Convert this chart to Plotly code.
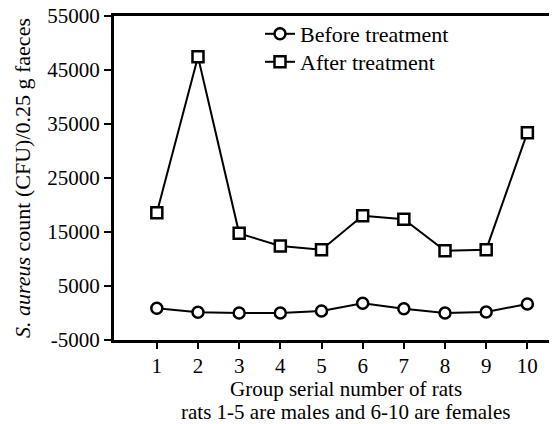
import plotly.graph_objects as go

rats = [1, 2, 3, 4, 5, 6, 7, 8, 9, 10]
before = [870, 130, 0, 0, 370, 1790, 800, 0, 190, 1670]
after = [18580, 47470, 14750, 12400, 11730, 18020, 17350, 11540, 11730, 33400]
y_ticks = [-5000, 5000, 15000, 25000, 35000, 45000, 55000]

font = "Liberation Serif"
# page body has an 8px margin; plot area spans screen x 114..557, y 16..340
PW, PH = 443, 324


def px_x(sx):
    return (sx - 114) / PW


def px_y(sy):
    return (340 - sy) / PH


fig = go.Figure()
fig.add_trace(go.Scatter(
    x=rats, y=before, mode="lines+markers", name="Before treatment", legend="legend",
    line=dict(color="black", width=2),
    marker=dict(symbol="circle", size=11, color="white", line=dict(color="black", width=2.5)),
))
fig.add_trace(go.Scatter(
    x=rats, y=after, mode="lines+markers", name="After treatment", legend="legend2",
    line=dict(color="black", width=2),
    marker=dict(symbol="square", size=11, color="white", line=dict(color="black", width=2.5)),
))

leg_common = dict(xanchor="left", yanchor="middle", bgcolor="rgba(0,0,0,0)",
                  font=dict(family=font, size=22), itemwidth=30)

fig.update_layout(
    width=549, height=416,
    margin=dict(l=106, r=0, t=8, b=84),
    paper_bgcolor="white", plot_bgcolor="white",
    font=dict(family=font, size=21, color="black"),
    showlegend=True,
    legend=dict(x=px_x(260), y=px_y(34), **leg_common),
    legend2=dict(x=px_x(260), y=px_y(62), **leg_common),
    xaxis=dict(
        range=[-0.04, 10.72], tickvals=rats, ticktext=[str(r) for r in rats],
        showgrid=False, zeroline=False, showline=True, linecolor="black", linewidth=3,
        mirror=True, ticks="outside", ticklen=6, tickwidth=2, tickcolor="black",
        tickfont=dict(family=font, size=21), automargin=False,
        ticklabelstandoff=-1, ticklabeloverflow="allow",
    ),
    yaxis=dict(
        range=[-5000, 55000], tickvals=y_ticks, ticktext=[str(v) for v in y_ticks],
        showgrid=False, zeroline=False, showline=True, linecolor="black", linewidth=3,
        ticks="outside", ticklen=7, tickwidth=2, tickcolor="black",
        tickfont=dict(family=font, size=21), automargin=False,
        ticklabeloverflow="allow",
    ),
    annotations=[
        dict(text="<i>S. aureus</i> count (CFU)/0.25 g faeces", textangle=-90,
             xref="paper", yref="paper", x=px_x(22), y=px_y(178),
             xanchor="center", yanchor="middle", showarrow=False,
             font=dict(family=font, size=22)),
        dict(text="Group serial number of rats",
             xref="paper", yref="paper", x=px_x(346), y=px_y(389),
             xanchor="center", yanchor="middle", showarrow=False,
             font=dict(family=font, size=21)),
        dict(text="rats 1-5 are males and 6-10 are females",
             xref="paper", yref="paper", x=px_x(345), y=px_y(412),
             xanchor="center", yanchor="middle", showarrow=False,
             font=dict(family=font, size=21)),
    ],
)

fig.write_html("out.html")
